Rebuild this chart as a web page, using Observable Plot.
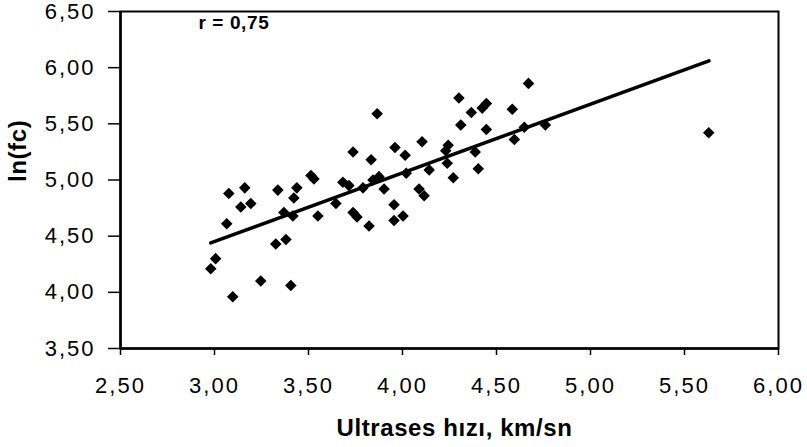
<!DOCTYPE html>
<html>
<head>
<meta charset="utf-8">
<script src="https://cdn.jsdelivr.net/npm/d3@7"></script>
<script src="https://cdn.jsdelivr.net/npm/@observablehq/plot@0.6"></script>
<style>
  html, body { margin: 0; padding: 0; background: white; }
  g[aria-label="x-axis tick label"] text, g[aria-label="y-axis tick label"] text { letter-spacing: 2px; }
  g.title text { letter-spacing: 0.6px; }
</style>
</head>
<body>
<div id="chart"></div>
<script>
// Ultrasonic velocity (km/s)
const xs = [2.98, 3.006, 3.065, 3.076, 3.097, 3.161, 3.14, 3.193, 3.246, 3.337,
            3.326, 3.38, 3.369, 3.422, 3.406, 3.417, 3.438, 3.513, 3.529, 3.55,
            3.646, 3.683, 3.715, 3.737, 3.737, 3.758, 3.79, 3.822, 3.833, 3.865,
            3.843, 3.875, 3.902, 3.955, 3.96, 3.955, 4.003, 4.014, 4.02, 4.088,
            4.104, 4.115, 4.142, 4.238, 4.243, 4.27, 4.30, 4.31, 4.366, 4.387,
            4.403, 4.424, 4.446, 4.446, 4.584, 4.595, 4.648, 4.67, 4.76, 5.629,
            4.23];
// ln(fc)
const ys = [4.21, 4.30, 4.61, 4.88, 3.96, 4.93, 4.76, 4.79, 4.10, 4.91,
            4.43, 4.47, 4.71, 4.84, 4.06, 4.68, 4.93, 5.04, 5.01, 4.68,
            4.79, 4.98, 4.95, 5.25, 4.71, 4.67, 4.93, 4.59, 5.18, 5.59,
            5.00, 5.03, 4.92, 4.64, 5.29, 4.78, 4.68, 5.22, 5.06, 4.92,
            5.34, 4.86, 5.09, 5.15, 5.31, 5.02, 5.73, 5.49, 5.60, 5.25,
            5.10, 5.64, 5.68, 5.45, 5.63, 5.36, 5.47, 5.86, 5.49, 5.42,
            5.26];
// Regression line end points
const fitX = [2.98, 5.63];
const fitY = [4.44, 6.06];
const xTicks = [2.5, 3.0, 3.5, 4.0, 4.5, 5.0, 5.5, 6.0];
const yTicks = [3.5, 4.0, 4.5, 5.0, 5.5, 6.0, 6.5];
const rLabel = "r = 0,75";
const xTitle = "Ultrases hızı, km/sn";
const yTitle = "ln(fc)";

const points = xs.map((x, i) => ({x, y: ys[i]}));
const fit = fitX.map((x, i) => ({x, y: fitY[i]}));
const fmt = d => d.toFixed(2).replace(".", ",");
const font = "'Liberation Sans', Arial, sans-serif";

const chart = Plot.plot({
  width: 807,
  height: 447,
  marginLeft: 120,
  marginRight: 29,
  marginTop: 11,
  marginBottom: 99,
  style: {fontFamily: font, background: "white", color: "black", overflow: "visible"},
  x: {domain: [2.5, 6]},
  y: {domain: [3.5, 6.5]},
  marks: [
    Plot.frame({stroke: "black", strokeWidth: 2}),
    Plot.axisX({ticks: xTicks, tickFormat: fmt, tickSize: 7, tickPadding: 22, fontSize: 22, strokeWidth: 1.5, label: null}),
    Plot.axisY({ticks: yTicks, tickFormat: fmt, tickSize: 12, tickPadding: 13, fontSize: 22, strokeWidth: 1.5, label: null}),
    Plot.ruleX([2.5], {stroke: "black", strokeWidth: 2.5}),
    Plot.ruleY([3.5], {stroke: "black", strokeWidth: 2.5}),
    Plot.line(fit, {x: "x", y: "y", stroke: "black", strokeWidth: 3.5}),
    Plot.dot(points, {x: "x", y: "y", symbol: "diamond2", r: 5.2, fill: "black", stroke: "none"}),
    Plot.text([rLabel], {frameAnchor: "top-left", textAnchor: "start", lineAnchor: "top", dx: 78, dy: 4, fontSize: 19, fontWeight: "bold", fill: "black", className: "title"}),
    Plot.text([xTitle], {frameAnchor: "bottom", lineAnchor: "top", dx: 5, dy: 70, fontSize: 24, fontWeight: "bold", fill: "black", className: "title"}),
    Plot.text([yTitle], {frameAnchor: "left", rotate: -90, dx: -102, dy: 2, fontSize: 24, fontWeight: "bold", fill: "black", className: "title"})
  ]
});
document.getElementById("chart").appendChild(chart);
</script>
</body>
</html>
